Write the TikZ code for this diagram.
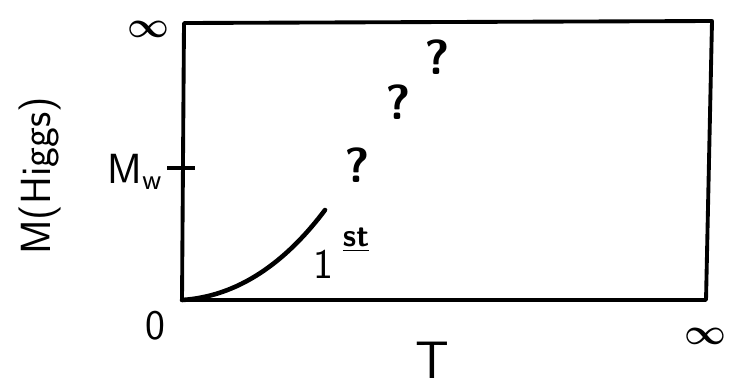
\documentclass[tikz,border=0pt]{standalone}
\usepackage{amsmath}
\usepackage{bm}
\usepackage{tikz}
\usetikzlibrary{calc}
\tikzset{
  % Chegara va egri chiziq
  boxline/.style   = {line width=2.2pt, line join=round, line cap=round},
  curveline/.style = {line width=2.6pt, line cap=round},
  tickline/.style  = {line width=1.8pt},
  % Etiketlar
  biglab/.style    = {font=\sffamily\fontsize{30}{30}\selectfont, inner sep=0pt},
  inflab/.style    = {font=\fontsize{21}{21}\selectfont, inner sep=0pt},
  midlab/.style    = {font=\sffamily\fontsize{24}{24}\selectfont, inner sep=0pt},
  qmark/.style     = {font=\sffamily\bfseries\fontsize{28}{28}\selectfont, inner sep=0pt},
}
\begin{document}
\begin{tikzpicture}[x=0.02cm, y=-0.02cm]
  \useasboundingbox (0,0) rectangle (732,386);
  \coordinate (O) at (182,300);
  \coordinate (R) at (706,300);
  \coordinate (RT) at (712,21);
  \coordinate (LT) at (184,23);
  \coordinate (E) at (325,210);
  % Chegara
  \draw[boxline] (O) -- (R) -- (RT) -- (LT) -- cycle;
  % M_W belgisi
  \coordinate (tA) at (167,168);
  \coordinate (tB) at (195,168);
  \draw[tickline] (tA) -- (tB);
  % Birinchi tartibli chiziq
  \draw[curveline] (O) .. controls (245,296) and (292,254) .. (E);
  % Etiketlar
  \node[inflab] (inftop) at (148,29) {$\bm{\infty}$};
  \node[inflab] (infrt) at (705,336) {$\bm{\infty}$};
  \node[midlab] (zero) at (155,326) {0};
  \node[biglab] (tlab) at (432,360) {T};
  \node[midlab] (mw) at (135,172) {M$_{\text{w}}$};
  \node[midlab, rotate=90] (mlab) at (40,176) {M(Higgs)};
  \node[midlab] (one) at (323,264) {1};
  \node[font=\sffamily\bfseries\fontsize{18}{18}\selectfont, inner sep=1pt] (st) at (356,240) {\underline{st}};
  \node[qmark] (q1) at (357,165) {?};
  \node[qmark] (q2) at (398,102) {?};
  \node[qmark] (q3) at (437,57) {?};
\end{tikzpicture}
\end{document}
